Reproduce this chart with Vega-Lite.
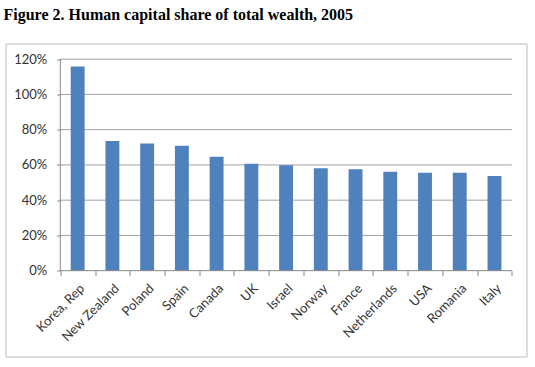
{
  "$schema": "https://vega.github.io/schema/vega-lite/v6.json",
  "width": 521,
  "height": 313,
  "autosize": "none",
  "padding": {"left": 5.5, "top": 43.5, "right": 8.5, "bottom": 10.5},
  "background": "white",
  "title": {
    "text": "Figure 2. Human capital share of total wealth, 2005",
    "anchor": "start",
    "frame": "group",
    "font": "Liberation Serif",
    "fontSize": 16,
    "fontWeight": "bold",
    "color": "#000000",
    "offset": 21,
    "dx": -2
  },
  "config": {
    "view": {"stroke": "#bcbcbc", "strokeWidth": 1},
    "axis": {"labelFont": "Lato", "labelFontSize": 13, "labelColor": "#333333"}
  },
  "layer": [
    {
      "data": {"values": [{"g": 0.2}, {"g": 0.4}, {"g": 0.6}, {"g": 0.8}, {"g": 1.0}, {"g": 1.2}]},
      "mark": {"type": "rule", "color": "#a0a0a0", "strokeWidth": 1},
      "encoding": {
        "x": {"datum": "Korea, Rep", "type": "nominal", "bandPosition": 0},
        "x2": {"datum": "Italy", "bandPosition": 1},
        "y": {"field": "g", "type": "quantitative"}
      }
    },
    {
      "data": {"values": [
        {"country": "Korea, Rep", "share": 1.158},
        {"country": "New Zealand", "share": 0.736},
        {"country": "Poland", "share": 0.721},
        {"country": "Spain", "share": 0.709},
        {"country": "Canada", "share": 0.647},
        {"country": "UK", "share": 0.606},
        {"country": "Israel", "share": 0.598},
        {"country": "Norway", "share": 0.581},
        {"country": "France", "share": 0.575},
        {"country": "Netherlands", "share": 0.562},
        {"country": "USA", "share": 0.556},
        {"country": "Romania", "share": 0.556},
        {"country": "Italy", "share": 0.537}
      ]},
      "mark": {"type": "bar", "color": "#4F81BD", "width": {"band": 0.4}},
      "encoding": {
        "x": {
          "field": "country",
          "type": "nominal",
          "sort": null,
          "title": null,
          "scale": {
            "domain": ["Korea, Rep", "New Zealand", "Poland", "Spain", "Canada", "UK", "Israel", "Norway", "France", "Netherlands", "USA", "Romania", "Italy"],
            "paddingInner": 0,
            "paddingOuter": 1.009,
            "align": 0.789
          },
          "axis": {
            "domain": false,
            "grid": false,
            "tickBand": "extent",
            "tickSize": 5,
            "tickColor": "#868686",
            "labelAngle": -45,
            "labelAlign": "right",
            "labelBaseline": "top",
            "labelPadding": 6,
            "offset": -85.8
          }
        },
        "y": {
          "field": "share",
          "type": "quantitative",
          "title": null,
          "scale": {"domain": [-0.487, 1.289], "nice": false, "zero": false},
          "axis": {
            "values": [0, 0.2, 0.4, 0.6, 0.8, 1.0, 1.2],
            "format": ".0%",
            "domain": false,
            "grid": false,
            "tickSize": 4,
            "tickColor": "#868686",
            "labelPadding": 10,
            "offset": -55.2
          }
        }
      }
    },
    {
      "data": {"values": [{"g": 0}]},
      "mark": {"type": "rule", "color": "#868686", "strokeWidth": 1},
      "encoding": {
        "x": {"datum": "Korea, Rep", "type": "nominal", "bandPosition": 0},
        "x2": {"datum": "Italy", "bandPosition": 1},
        "y": {"field": "g", "type": "quantitative"}
      }
    },
    {
      "data": {"values": [{"g": 0, "g2": 1.2}]},
      "mark": {"type": "rule", "color": "#868686", "strokeWidth": 1},
      "encoding": {
        "x": {"datum": "Korea, Rep", "type": "nominal", "bandPosition": 0},
        "y": {"field": "g", "type": "quantitative"},
        "y2": {"field": "g2"}
      }
    }
  ]
}
